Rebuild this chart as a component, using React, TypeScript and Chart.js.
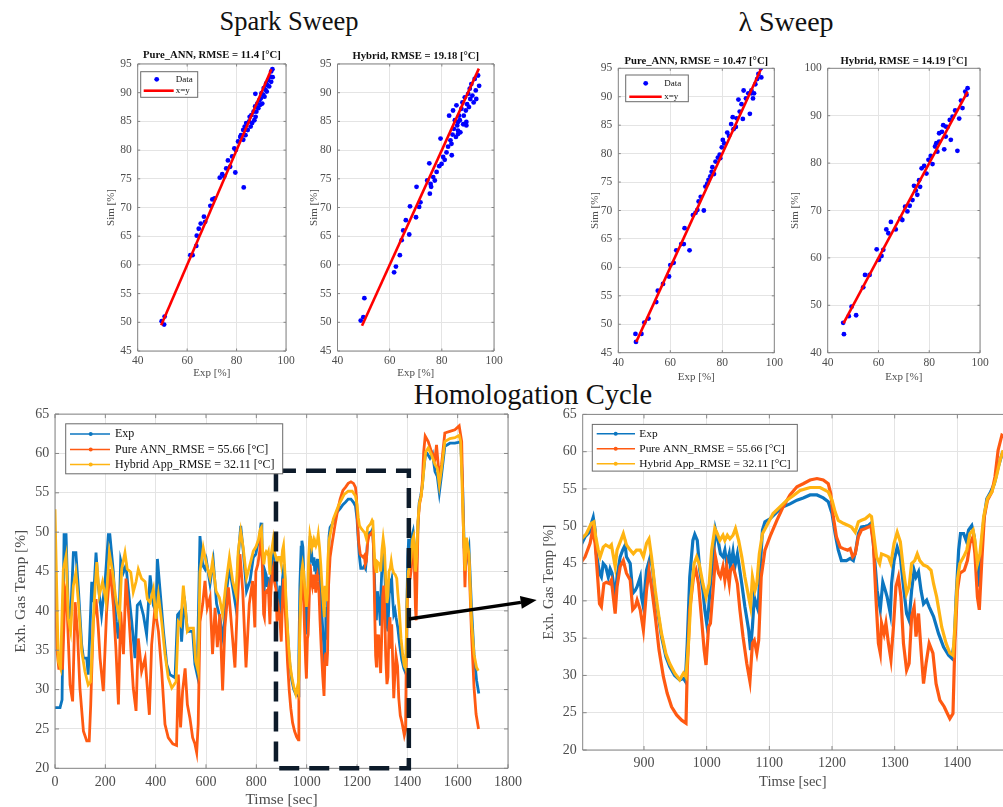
import React, { useEffect, useRef } from "react";
import { Chart, registerables } from "chart.js";

Chart.register(...registerables);

const SERIF = "'Liberation Serif', 'Times New Roman', serif";
Chart.defaults.font.family = SERIF;

// ---------------- Scatter data: [Exp, Sim] ----------------
const sparkPureAnnPoints: [number, number][] = [
  [49.7, 50.2], [50.7, 49.6], [50.9, 51.0], [61.3, 61.7], [62.2, 61.7], [63.7, 63.3], [63.9, 65.1], [64.7, 66.3],
  [65.5, 67.2], [66.8, 68.4], [67.3, 67.5], [69.4, 70.3], [70.2, 71.4], [71.1, 71.6], [73.2, 75.2], [74.2, 75.8],
  [75.0, 75.4], [75.8, 76.8], [76.5, 78.2], [77.4, 77.1], [79.5, 76.1], [78.2, 78.9], [79.1, 80.3], [79.7, 80.0],
  [80.6, 81.5], [81.5, 82.3], [81.8, 82.6], [82.7, 83.5], [82.9, 73.5], [83.3, 84.1], [83.9, 84.7], [84.5, 83.5],
  [85.1, 85.0], [85.3, 85.8], [86.0, 86.1], [86.3, 84.7], [86.9, 86.7], [87.5, 87.6], [87.7, 85.8], [88.4, 88.1],
  [87.6, 89.8], [89.2, 88.7], [89.8, 89.0], [90.1, 89.9], [90.4, 88.1], [91.0, 90.8], [91.3, 89.3], [92.0, 91.6],
  [92.2, 90.2], [92.8, 92.2], [93.2, 91.1], [93.6, 92.8], [94.0, 91.9], [94.0, 93.7], [94.5, 94.1], [94.6, 92.7],
  [82.7, 81.8], [83.6, 82.6], [85.7, 84.1], [87.2, 85.2], [88.0, 86.7], [88.8, 87.3], [89.6, 87.9], [90.8, 89.6],
  [91.7, 90.5], [92.4, 91.3],
];
const sparkHybridPoints: [number, number][] = [
  [48.9, 50.3], [49.9, 50.9], [50.3, 54.2], [61.7, 58.7], [62.4, 59.7], [63.9, 61.7], [64.6, 64.3], [65.2, 66.0],
  [66.2, 67.8], [67.5, 65.3], [67.8, 70.2], [70.1, 68.3], [70.3, 73.6], [71.3, 70.1], [71.8, 70.9], [74.4, 74.7],
  [75.2, 77.7], [75.4, 72.4], [75.7, 74.1], [75.9, 73.6], [76.7, 75.3], [77.3, 74.7], [78.0, 76.2], [79.0, 77.2],
  [79.5, 82.0], [79.9, 77.6], [80.5, 78.8], [81.1, 78.3], [81.8, 79.6], [82.4, 80.6], [82.8, 86.0], [83.3, 81.7],
  [83.8, 79.1], [84.1, 82.7], [84.3, 86.9], [84.6, 83.7], [85.0, 85.2], [85.4, 82.3], [85.6, 87.8], [85.9, 84.3],
  [86.2, 83.4], [86.6, 86.0], [86.9, 85.2], [87.1, 83.1], [87.5, 87.2], [87.9, 88.3], [88.2, 84.5], [88.4, 86.0],
  [88.8, 89.2], [89.2, 86.9], [89.4, 84.9], [89.7, 88.0], [90.1, 89.8], [90.4, 87.5], [90.7, 90.7], [90.9, 88.9],
  [91.3, 91.5], [91.7, 89.5], [92.2, 88.3], [92.6, 92.4], [93.0, 90.4], [93.2, 88.9], [93.9, 93.0], [94.3, 91.2],
  [89.4, 84.3], [83.7, 81.1], [86.2, 84.9], [86.2, 82.8],
];
const lambdaPureAnnPoints: [number, number][] = [
  [46.6, 48.3], [46.8, 46.9], [48.9, 48.3], [50.0, 50.3], [51.6, 51.0], [54.6, 53.9], [55.2, 55.9], [57.2, 57.1],
  [59.5, 58.4], [60.0, 60.4], [61.3, 60.8], [62.3, 63.0], [64.2, 64.1], [65.2, 64.1], [65.5, 66.9], [67.4, 63.0],
  [68.7, 69.2], [69.7, 69.6], [70.4, 70.1], [70.9, 71.6], [71.7, 72.4], [72.9, 70.0], [73.5, 74.2], [74.2, 74.7],
  [74.7, 75.4], [75.4, 76.0], [75.9, 76.8], [76.2, 77.6], [76.8, 76.4], [77.4, 78.6], [78.3, 79.3], [79.0, 79.8],
  [79.2, 79.2], [79.8, 81.1], [80.2, 82.4], [80.7, 81.8], [81.9, 83.7], [82.6, 83.1], [83.4, 85.2], [84.0, 86.4],
  [84.3, 84.3], [85.2, 84.7], [85.5, 86.2], [86.2, 89.5], [86.7, 87.4], [87.4, 88.7], [87.9, 86.1], [88.2, 91.1],
  [89.1, 89.7], [90.0, 90.6], [90.6, 87.0], [91.2, 91.1], [91.8, 89.7], [92.7, 92.2], [93.4, 93.1], [93.9, 94.0],
  [94.8, 95.0], [95.0, 93.4], [91.2, 90.6], [92.2, 90.6],
];
const lambdaHybridPoints: [number, number][] = [
  [46.1, 46.3], [46.4, 43.9], [48.3, 47.7], [49.4, 49.7], [51.2, 47.9], [54.0, 53.8], [54.7, 56.4], [56.5, 56.4],
  [59.3, 61.8], [60.2, 59.6], [61.2, 60.4], [61.9, 61.7], [63.1, 66.0], [63.9, 65.2], [64.9, 67.6], [66.8, 66.0],
  [68.7, 68.4], [69.4, 68.0], [70.5, 70.8], [71.4, 69.8], [72.3, 71.0], [73.4, 72.2], [74.0, 75.2], [74.7, 74.2],
  [75.3, 73.3], [76.0, 76.4], [76.4, 75.0], [77.0, 78.9], [78.0, 79.4], [78.9, 77.8], [79.7, 80.7], [80.6, 81.5],
  [81.3, 79.8], [82.3, 83.5], [83.2, 82.4], [83.9, 84.5], [85.0, 86.6], [85.5, 88.0], [85.9, 82.9], [86.5, 85.6],
  [87.2, 87.6], [88.1, 89.1], [88.5, 84.9], [89.2, 89.8], [90.2, 91.1], [91.1, 82.6], [91.8, 89.4], [92.5, 93.2],
  [93.1, 91.6], [94.2, 95.1], [95.1, 95.8], [94.7, 94.4], [83.9, 86.3], [86.5, 87.7], [82.8, 84.2],
];
const sparkPureAnnDiag = [49.5, 94.1];
const sparkHybridDiag = [49.4, 94.2];
const lambdaPureAnnDiag = [46.9, 94.8];
const lambdaHybridDiag = [46.2, 95.1];

const scatterXTicks = [40, 60, 80, 100];
const sparkYTicks = [45, 50, 55, 60, 65, 70, 75, 80, 85, 90, 95];
const lambdaPureYTicks = [45, 50, 55, 60, 65, 70, 75, 80, 85, 90, 95];
const lambdaHybridYTicks = [40, 50, 60, 70, 80, 90, 100];

const sparkPureAnnTitle = "Pure_ANN, RMSE = 11.4 [°C]";
const sparkHybridTitle = "Hybrid, RMSE = 19.18 [°C]";
const lambdaPureAnnTitle = "Pure_ANN, RMSE = 10.47 [°C]";
const lambdaHybridTitle = "Hybrid, RMSE = 14.19 [°C]";

// ---------------- Homologation cycle: [time s, value %] ----------------
const cycleExp: [number, number][] = [
  [0, 27.7], [20, 27.7], [28, 28.7], [36, 49.7], [44, 49.7], [53, 39.9], [60, 37.8], [73, 47.4], [83, 47.4], [93, 42.8],
  [106, 35.7], [113, 34], [126, 34], [132, 31.9], [146, 43.7], [152, 41.1], [163, 47.4], [172, 43.2], [185, 39.5], [199, 43.7],
  [212, 49.7], [218, 49.7], [232, 44.9], [242, 38.6], [252, 36.5], [261, 46.4], [272, 44.9], [282, 45.8], [291, 42.8], [305, 38.6],
  [318, 34], [327, 40.7], [338, 41.1], [351, 39.5], [364, 37], [378, 44.5], [391, 40.7], [401, 39.9], [407, 46.6], [417, 42.8],
  [431, 37.4], [444, 33.2], [457, 31.9], [477, 31.5], [487, 39.5], [497, 39.9], [503, 36.1], [510, 39.5], [517, 40.7], [526, 37.4],
  [536, 37.4], [547, 37.4], [556, 33.2], [565, 31.9], [576, 49.5], [587, 45.8], [596, 45.3], [602, 46.3], [616, 43.4], [629, 46.3],
  [642, 40.9], [655, 39.2], [669, 36.2], [679, 41.7], [693, 45.5], [706, 43], [719, 40.4], [728, 46.8], [738, 50.8], [748, 47.6],
  [761, 42.5], [775, 43.8], [788, 46.8], [798, 47.2], [806, 48.6], [813, 49.2], [816, 50.4], [819, 51.2], [822, 49.5], [824, 46.3],
  [829, 43.7], [832, 43.2], [835, 45], [839, 44.6], [843, 43.2], [846, 44.3], [849, 43.7], [854, 40.5], [857, 43.2], [862, 45.9],
  [866, 46.8], [870, 47.5], [872, 45.9], [878, 45], [882, 41], [886, 41.4], [889, 41.9], [894, 43.2], [896, 40.5], [899, 39.2],
  [904, 44.1], [910, 45.9], [914, 44.1], [918, 40.5], [923, 37.9], [928, 35.2], [935, 32.5], [941, 31.2], [949, 30], [957, 29.4],
  [963, 29.6], [966, 29.2], [969, 34.3], [973, 43.2], [978, 48.1], [981, 48.9], [985, 48.1], [989, 44.1], [994, 41.4], [997, 38.8],
  [1000, 37], [1003, 38.8], [1006, 42.3], [1011, 46.3], [1014, 49.5], [1019, 47.7], [1022, 46.3], [1026, 45.9], [1029, 46.8], [1032, 45],
  [1036, 46.3], [1038, 44.6], [1042, 46.6], [1045, 44.6], [1049, 46.3], [1052, 44.6], [1056, 42.3], [1061, 39.2], [1067, 36.1], [1070, 33.4],
  [1073, 36.5], [1076, 40.5], [1079, 39.6], [1082, 38.8], [1085, 43.7], [1089, 49.5], [1093, 50.6], [1101, 51], [1112, 51.9], [1122, 52.6],
  [1133, 53], [1144, 53.5], [1154, 53.8], [1165, 54.2], [1176, 54.2], [1186, 53.8], [1194, 53.3], [1200, 51.7], [1205, 49], [1210, 46.8],
  [1215, 45.4], [1223, 45.4], [1229, 45.7], [1234, 45.4], [1238, 46.8], [1242, 49], [1247, 49.9], [1253, 50], [1258, 50.1], [1262, 50.4],
  [1265, 48.6], [1269, 44.6], [1272, 41.4], [1277, 38.8], [1281, 42.5], [1285, 41.4], [1288, 40.5], [1293, 38.3], [1295, 42.3], [1299, 45.4],
  [1304, 47.2], [1309, 45.9], [1314, 41.9], [1319, 38.3], [1323, 37.4], [1327, 41.4], [1331, 44.1], [1334, 43.2], [1338, 43.9], [1342, 41.4],
  [1346, 39.6], [1351, 40.1], [1355, 39.2], [1362, 37.9], [1370, 35.6], [1378, 33.8], [1386, 32.7], [1391, 32.3], [1395, 34.3], [1398, 40.5],
  [1402, 46.8], [1405, 49], [1410, 49], [1414, 48.1], [1418, 49.5], [1423, 50.1], [1427, 48.6], [1431, 44.6], [1434, 41.9], [1437, 45.9],
  [1442, 50.8], [1447, 53.7], [1453, 54.6], [1459, 55.7], [1465, 57.9], [1472, 59.9], [1479, 60], [1490, 59.4], [1500, 60], [1510, 57.7],
  [1519, 57.1], [1527, 55], [1536, 57.3], [1549, 60.9], [1569, 61.3], [1589, 61.3], [1602, 61.4], [1612, 61.5], [1620, 55.6], [1626, 48],
  [1635, 46.3], [1645, 48], [1655, 40.4], [1665, 34.5], [1675, 31.2], [1684, 29.5],
];
const cycleAnn: [number, number][] = [
  [0, 45], [8, 35], [15, 32.7], [30, 32.7], [40, 42.8], [46, 42], [60, 30.6], [70, 28.5], [80, 41.1], [89, 37.4],
  [99, 30.2], [113, 24.7], [126, 23.5], [136, 23.5], [142, 28.1], [152, 38.6], [163, 41.5], [172, 37.8], [179, 34], [192, 29.8],
  [205, 39.9], [219, 45.3], [232, 40.7], [242, 35.2], [252, 28.1], [261, 39.9], [272, 34.5], [282, 44.1], [295, 38.6], [311, 30.2],
  [322, 27.3], [331, 36.5], [344, 32.3], [358, 34], [375, 26.8], [384, 35.7], [397, 40.3], [411, 37.4], [424, 32.3], [437, 25.6],
  [450, 23.9], [468, 23.1], [483, 22.9], [490, 31.9], [499, 25.2], [507, 29.8], [517, 32.7], [526, 28.1], [536, 26.4], [547, 23.9],
  [556, 23.1], [563, 22], [569, 25.6], [576, 38.6], [587, 40.9], [596, 43.8], [605, 40.4], [616, 41.7], [626, 34.5], [636, 40.4],
  [645, 35.4], [655, 39.6], [666, 29.9], [675, 37.9], [689, 43], [702, 37.9], [715, 32.8], [724, 40.4], [735, 47.2], [746, 42.5],
  [759, 32.8], [772, 40.9], [785, 43.8], [794, 37.9], [798, 45], [806, 45.9], [814, 47.7], [818, 49.5], [822, 47.7], [826, 43.2],
  [829, 39.6], [832, 39.2], [836, 42.3], [840, 42.5], [845, 42.3], [848, 42.8], [854, 38.3], [857, 41.9], [862, 44.6], [867, 45.4],
  [872, 43.7], [878, 42.8], [882, 38.8], [886, 39.2], [889, 40.1], [894, 38.8], [899, 36.1], [904, 41.4], [908, 44.1], [912, 41.9],
  [918, 37.9], [924, 33.4], [931, 29.8], [937, 27.6], [944, 25.8], [952, 24.7], [960, 24], [967, 23.6], [969, 30.7], [973, 38.8],
  [979, 43.2], [983, 44.1], [987, 42.3], [992, 37.4], [996, 33.4], [999, 31.4], [1003, 36.5], [1006, 37], [1011, 42.3], [1014, 45.9],
  [1019, 43.7], [1022, 43.2], [1026, 44.6], [1029, 42.8], [1032, 44.6], [1036, 42.3], [1038, 44.1], [1042, 44.6], [1045, 43.7], [1049, 42.3],
  [1053, 38.8], [1058, 35.2], [1064, 31.6], [1069, 29.2], [1073, 34.3], [1076, 34.7], [1080, 33], [1083, 34.7], [1087, 43.2], [1093, 46.8],
  [1101, 48.6], [1112, 50.8], [1122, 52.6], [1133, 54.2], [1144, 55.3], [1154, 55.7], [1165, 56.2], [1176, 56.4], [1186, 56.2], [1194, 55.7],
  [1198, 54.4], [1202, 51.3], [1207, 48.6], [1213, 47.2], [1218, 47], [1225, 46.8], [1229, 47], [1233, 45.9], [1237, 46.3], [1242, 48.6],
  [1247, 49.5], [1253, 49.7], [1258, 49.9], [1262, 50.1], [1266, 47.7], [1270, 40.5], [1274, 34.3], [1277, 33], [1279, 37], [1283, 35.6],
  [1286, 37], [1290, 34.3], [1294, 32.1], [1298, 36.5], [1302, 41.9], [1306, 43.2], [1310, 40.5], [1314, 34.3], [1319, 30.7], [1323, 31.6],
  [1327, 37.9], [1331, 39.2], [1334, 35.2], [1338, 38.3], [1342, 33.4], [1346, 28.9], [1350, 31.6], [1355, 34.3], [1361, 33], [1366, 28.9],
  [1372, 26.7], [1379, 25.8], [1384, 24.9], [1388, 24.2], [1393, 24.9], [1396, 34.3], [1400, 41.4], [1404, 43.7], [1411, 44.1], [1416, 45.4],
  [1420, 47.7], [1425, 48.6], [1428, 46.3], [1432, 40.5], [1435, 38.8], [1439, 45.4], [1443, 51.3], [1448, 53.5], [1455, 54.6], [1460, 56.6],
  [1465, 60.2], [1471, 62.2], [1483, 61.5], [1496, 60.2], [1510, 59.4], [1516, 61.1], [1527, 56.9], [1536, 58.6], [1549, 62.6], [1569, 62.8],
  [1589, 63], [1606, 63.5], [1616, 61.5], [1622, 51.4], [1629, 43], [1635, 48.9], [1645, 46.3], [1655, 37.1], [1665, 30.3], [1673, 26.9],
  [1683, 25],
];
const cycleHybrid: [number, number][] = [
  [0, 52.9], [13, 33.6], [22, 32.7], [33, 45.3], [44, 47], [53, 39], [62, 37.4], [73, 43.2], [83, 44.9], [93, 41.1],
  [106, 34.9], [119, 32.3], [132, 30.6], [142, 31], [155, 40.7], [166, 46.2], [176, 42], [189, 43.7], [203, 41.1], [216, 47.4],
  [229, 44.9], [242, 41.5], [256, 39], [265, 45.3], [278, 47.4], [287, 45.3], [301, 44.9], [311, 42.4], [322, 43.7], [331, 45.3],
  [344, 44.1], [358, 43.7], [367, 41.5], [378, 41.1], [391, 42.8], [401, 39], [411, 42], [424, 38.6], [437, 34.5], [450, 31.5],
  [464, 30.2], [481, 31], [490, 38.6], [499, 38.2], [510, 43.2], [517, 40.7], [526, 37.4], [536, 37.8], [550, 37.8], [559, 33.6],
  [569, 32.3], [576, 44.9], [589, 48], [602, 45.9], [616, 44.2], [626, 46.3], [640, 42.5], [653, 41.7], [666, 39.6], [679, 43.4],
  [693, 46.8], [706, 43.8], [719, 42.1], [728, 47.6], [738, 50.1], [748, 48], [761, 44.2], [775, 45.9], [788, 47.6], [798, 48.1],
  [808, 49], [816, 50.4], [820, 50.6], [823, 48.6], [827, 46.8], [830, 45.9], [835, 47.2], [839, 47.5], [845, 47.2], [848, 47.5],
  [854, 44.6], [857, 46.8], [863, 48.1], [867, 49], [872, 47.5], [878, 46.8], [883, 46.3], [888, 46.8], [894, 46.8], [899, 45.9],
  [904, 47.7], [908, 48.3], [912, 45.9], [918, 41.4], [923, 38.3], [928, 35.6], [935, 32.9], [941, 31.6], [949, 30.3], [957, 29.4],
  [963, 30.3], [967, 29.8], [971, 34.3], [975, 40.5], [980, 45], [984, 45.9], [988, 45], [994, 42.3], [999, 40.5], [1004, 42.3],
  [1008, 46.8], [1013, 49.7], [1017, 49], [1021, 48.1], [1026, 48.8], [1029, 48.1], [1033, 48.8], [1037, 48.3], [1042, 48.8], [1046, 49.7],
  [1051, 48.1], [1056, 45.9], [1061, 43.2], [1067, 40.5], [1070, 39.2], [1073, 43.2], [1077, 41.4], [1080, 42.3], [1084, 46.3], [1089, 49],
  [1096, 50.1], [1106, 51.7], [1117, 52.6], [1128, 53.5], [1138, 54.1], [1149, 54.8], [1165, 55.2], [1181, 55.2], [1194, 54.6], [1200, 53.5],
  [1205, 51.9], [1210, 50.8], [1218, 50.4], [1226, 50.1], [1231, 49.9], [1237, 49.2], [1242, 50.6], [1247, 50.8], [1253, 51], [1260, 51.5],
  [1263, 51.3], [1267, 48.6], [1271, 45.9], [1276, 45], [1279, 46.3], [1285, 46.1], [1290, 45.9], [1294, 45], [1299, 47.7], [1304, 49.2],
  [1309, 47.9], [1314, 44.1], [1319, 41], [1323, 41.9], [1327, 45], [1332, 45.4], [1336, 46.3], [1340, 45.4], [1346, 44.8], [1352, 44.6],
  [1358, 44.1], [1362, 42.3], [1367, 40.5], [1375, 36.5], [1382, 34.3], [1388, 33], [1393, 32.7], [1396, 36.5], [1400, 42.8], [1404, 45],
  [1410, 45.9], [1415, 46.8], [1420, 49], [1425, 49.5], [1428, 48.1], [1432, 45], [1436, 46.3], [1442, 51.3], [1448, 53.7], [1455, 54.6],
  [1462, 56.6], [1468, 58.8], [1473, 60.2], [1483, 60.7], [1496, 59.8], [1510, 58.6], [1519, 58.1], [1527, 56], [1536, 58.1], [1549, 61.5],
  [1569, 61.9], [1589, 62], [1606, 62.3], [1612, 61.5], [1622, 51.4], [1629, 45.1], [1635, 49.3], [1645, 47.2], [1655, 38.7], [1665, 34.5],
  [1675, 32.8], [1682, 32.4],
];
const cycleLabels = ["Exp", "Pure ANN_RMSE = 55.66 [°C]", "Hybrid App_RMSE = 32.11 [°C]"];
const cycleFullXTicks = [0, 200, 400, 600, 800, 1000, 1200, 1400, 1600, 1800];
const cycleZoomXTicks = [900, 1000, 1100, 1200, 1300, 1400];
const cycleYTicks = [20, 25, 30, 35, 40, 45, 50, 55, 60, 65];
const cycleFullRange = [0, 1800];
const cycleZoomRange = [802.2, 1472.8];
const zoomBoxTime = [878, 1406];
const zoomBoxTop = 57.8;
const arrowStartValue = 38.96;

// ---------------- styles ----------------
const BLUE = "#0000ff";
const RED = "#ff0000";
const EXP_C = "#0c76c0";
const ANN_C = "#ff5a12";
const HYB_C = "#ffb412";
const GRID = "#e4e4e4";
const BOX = "#868686";
const TICK = "#4d4d4d";
const TEXT = "#111111";

type Geo = {
  cx: number; cy: number; cw: number; ch: number;
  L: number; T: number; R: number; B: number;
  titleY?: number; titleSize?: number;
  yTitleX: number; xTitleY: number; xTickY: number; yTickGap: number;
  tickSize: number; axisTitleSize: number;
};

type LegendSpec = {
  dx: number; dy: number; w: number; h: number;
  order: number[]; kinds: string[]; rows: number[];
  lineX: [number, number]; dotX: number; textX: number;
  font: number; lineWidth: number; dotR: number;
};

function axisOptions(geo: Geo, axis: "x" | "y", min: number, max: number, ticks: number[], title: string) {
  const lhK = geo.tickSize * 1.2;
  const lhA = geo.axisTitleSize * 1.2;
  const o: any = {
    type: "linear",
    min,
    max,
    afterBuildTicks: (s: any) => {
      s.ticks = ticks.map((v) => ({ value: v }));
    },
    grid: { color: GRID, lineWidth: 1, drawTicks: false },
    border: { display: false },
    ticks: {
      color: TICK,
      font: { family: SERIF, size: geo.tickSize },
      autoSkip: false,
      maxRotation: 0,
      minRotation: 0,
      callback: (v: any) => String(v),
    },
    title: { display: true, text: title, color: TICK, font: { family: SERIF, size: geo.axisTitleSize }, padding: 0 },
  };
  if (axis === "x") {
    const axisBottom = geo.xTitleY + lhA / 2;
    o.afterFit = (s: any) => {
      s.height = axisBottom - geo.B;
    };
    o.ticks.padding = geo.xTickY - geo.B - lhK / 2;
  } else {
    const axisLeft = geo.yTitleX - lhA / 2;
    o.afterFit = (s: any) => {
      s.width = geo.L - axisLeft;
    };
    o.ticks.padding = geo.yTickGap;
  }
  return o;
}

function layoutPadding(geo: Geo) {
  const lhA = geo.axisTitleSize * 1.2;
  const axisLeft = geo.yTitleX - lhA / 2;
  const axisBottom = geo.xTitleY + lhA / 2;
  let top = geo.T - geo.cy;
  if (geo.titleY != null && geo.titleSize) {
    top = geo.titleY - (geo.titleSize * 1.2) / 2 - geo.cy;
  }
  return { left: axisLeft - geo.cx, top, right: geo.cx + geo.cw - geo.R, bottom: geo.cy + geo.ch - axisBottom };
}

function framePlugin(o: { tick: number; right?: boolean; legend?: LegendSpec; extra?: (chart: any) => void }) {
  return {
    id: "frame",
    afterDatasetsDraw(chart: any) {
      const { ctx, chartArea: a } = chart;
      const xs = chart.scales.x;
      const ys = chart.scales.y;
      const drawRight = o.right !== false;
      ctx.save();
      ctx.setLineDash([]);
      ctx.strokeStyle = BOX;
      ctx.lineWidth = 1;
      ctx.beginPath();
      if (drawRight) {
        ctx.rect(a.left, a.top, a.right - a.left, a.bottom - a.top);
      } else {
        ctx.moveTo(a.right + 2, a.top);
        ctx.lineTo(a.left, a.top);
        ctx.lineTo(a.left, a.bottom);
        ctx.lineTo(a.right + 2, a.bottom);
      }
      ctx.stroke();
      ctx.beginPath();
      for (const t of xs.ticks) {
        const px = xs.getPixelForValue(t.value);
        ctx.moveTo(px, a.bottom);
        ctx.lineTo(px, a.bottom - o.tick);
        ctx.moveTo(px, a.top);
        ctx.lineTo(px, a.top + o.tick);
      }
      for (const t of ys.ticks) {
        const py = ys.getPixelForValue(t.value);
        ctx.moveTo(a.left, py);
        ctx.lineTo(a.left + o.tick, py);
        if (drawRight) {
          ctx.moveTo(a.right, py);
          ctx.lineTo(a.right - o.tick, py);
        }
      }
      ctx.stroke();

      if (o.extra) o.extra(chart);

      if (o.legend) {
        const L = o.legend;
        const x0 = a.left + L.dx;
        const y0 = a.top + L.dy;
        ctx.fillStyle = "#ffffff";
        ctx.fillRect(x0, y0, L.w, L.h);
        ctx.strokeStyle = "#6a6a6a";
        ctx.lineWidth = 1;
        ctx.strokeRect(x0, y0, L.w, L.h);
        ctx.font = `${L.font}px ${SERIF}`;
        ctx.textBaseline = "middle";
        ctx.textAlign = "left";
        L.order.forEach((di, i) => {
          const ds = chart.data.datasets[di];
          const y = y0 + L.rows[i];
          const kind = L.kinds[i];
          const col = ds.borderColor;
          if (kind !== "dot") {
            ctx.strokeStyle = col;
            ctx.lineWidth = L.lineWidth;
            ctx.beginPath();
            ctx.moveTo(x0 + L.lineX[0], y);
            ctx.lineTo(x0 + L.lineX[1], y);
            ctx.stroke();
          }
          if (kind !== "line") {
            ctx.fillStyle = col;
            ctx.beginPath();
            ctx.arc(x0 + L.dotX, y, L.dotR, 0, Math.PI * 2);
            ctx.fill();
          }
          ctx.fillStyle = TEXT;
          ctx.fillText(ds.label, x0 + L.textX, y);
        });
      }
      ctx.restore();
    },
  };
}

function scatterConfig(
  geo: Geo,
  points: [number, number][],
  diag: number[],
  yMin: number,
  yMax: number,
  yTicks: number[],
  title: string,
  legend?: LegendSpec
) {
  const lhT = (geo.titleSize || 10) * 1.2;
  return {
    type: "scatter",
    data: {
      datasets: [
        {
          label: "x=y",
          data: [
            { x: diag[0], y: diag[0] },
            { x: diag[1], y: diag[1] },
          ],
          showLine: true,
          borderColor: RED,
          backgroundColor: RED,
          borderWidth: 2.6,
          pointRadius: 0,
          order: 0,
        },
        {
          label: "Data",
          data: points.map(([x, y]) => ({ x, y })),
          borderColor: BLUE,
          backgroundColor: BLUE,
          borderWidth: 0,
          pointRadius: 2.4,
          order: 1,
        },
      ],
    },
    options: {
      responsive: false,
      animation: false,
      devicePixelRatio: 1,
      layout: { padding: layoutPadding(geo) },
      scales: {
        x: axisOptions(geo, "x", 40, 100, scatterXTicks, "Exp [%]"),
        y: axisOptions(geo, "y", yMin, yMax, yTicks, "Sim [%]"),
      },
      plugins: {
        legend: { display: false },
        tooltip: { enabled: false },
        title: {
          display: true,
          text: title,
          fullSize: false,
          color: TEXT,
          font: { family: SERIF, size: geo.titleSize, weight: "bold" },
          padding: { top: 0, bottom: geo.T - ((geo.titleY as number) + lhT / 2) },
        },
      },
    },
    plugins: [framePlugin({ tick: 2.5, legend })],
  };
}

function cycleConfig(
  geo: Geo,
  range: number[],
  xTicks: number[],
  lineWidth: number,
  legend: LegendSpec,
  right: boolean,
  extra?: (chart: any) => void
) {
  const series = [cycleExp, cycleAnn, cycleHybrid];
  const colors = [EXP_C, ANN_C, HYB_C];
  const orders = [3, 2, 1];
  return {
    type: "line",
    data: {
      datasets: series.map((s, i) => ({
        label: cycleLabels[i],
        data: s.map(([x, y]) => ({ x, y })),
        borderColor: colors[i],
        backgroundColor: colors[i],
        borderWidth: lineWidth,
        pointRadius: 0,
        tension: 0,
        fill: false,
        order: orders[i],
      })),
    },
    options: {
      responsive: false,
      animation: false,
      devicePixelRatio: 1,
      layout: { padding: layoutPadding(geo) },
      scales: {
        x: axisOptions(geo, "x", range[0], range[1], xTicks, "Timse [sec]"),
        y: axisOptions(geo, "y", 20, 65, cycleYTicks, "Exh. Gas Temp [%]"),
      },
      plugins: { legend: { display: false }, tooltip: { enabled: false }, title: { display: false } },
    },
    plugins: [framePlugin({ tick: 4, legend, right, extra })],
  };
}

// ---------------- layout (page pixels) ----------------
const geoSparkPure: Geo = {
  cx: 80, cy: 40, cw: 225, ch: 345, L: 137.7, T: 64, R: 286, B: 351,
  titleY: 55, titleSize: 10.7, yTitleX: 111, xTitleY: 373.3, xTickY: 360.7, yTickGap: 6, tickSize: 11.5, axisTitleSize: 11,
};
const geoSparkHybrid: Geo = {
  cx: 300, cy: 40, cw: 210, ch: 345, L: 337.5, T: 64, R: 494, B: 351,
  titleY: 56, titleSize: 10.7, yTitleX: 314, xTitleY: 373.3, xTickY: 360.7, yTickGap: 6, tickSize: 11.5, axisTitleSize: 11,
};
const geoLambdaPure: Geo = {
  cx: 570, cy: 40, cw: 220, ch: 350, L: 618.3, T: 68.3, R: 774.3, B: 352.7,
  titleY: 61, titleSize: 10.7, yTitleX: 595, xTitleY: 376.7, xTickY: 362.7, yTickGap: 6, tickSize: 11.5, axisTitleSize: 11,
};
const geoLambdaHybrid: Geo = {
  cx: 775, cy: 40, cw: 228, ch: 350, L: 827.7, T: 68.3, R: 980, B: 352.7,
  titleY: 61, titleSize: 10.7, yTitleX: 795, xTitleY: 376.7, xTickY: 362.7, yTickGap: 6, tickSize: 11.5, axisTitleSize: 11,
};
const geoCycleFull: Geo = {
  cx: 0, cy: 400, cw: 545, ch: 412, L: 55, T: 412.3, R: 508, B: 768.3,
  yTitleX: 20.7, xTitleY: 800, xTickY: 782.3, yTickGap: 5.7, tickSize: 14, axisTitleSize: 15.5,
};
const geoCycleZoom: Geo = {
  cx: 530, cy: 400, cw: 473, ch: 400, L: 582.7, T: 414, R: 1003, B: 750,
  yTitleX: 549.3, xTitleY: 781.7, xTickY: 763.3, yTickGap: 6, tickSize: 14, axisTitleSize: 14.5,
};
const arrowTipPage = { x: 536.7, y: 600 };

const scatterLegendA: LegendSpec = {
  dx: 3, dy: 7.7, w: 57, h: 25.6, order: [1, 0], kinds: ["dot", "line"], rows: [7.6, 19],
  lineX: [3, 33], dotX: 16, textX: 35, font: 9, lineWidth: 2.6, dotR: 2.4,
};
const scatterLegendC: LegendSpec = {
  dx: 7.4, dy: 6.7, w: 62.6, h: 26.7, order: [1, 0], kinds: ["dot", "line"], rows: [8.3, 21.7],
  lineX: [3.6, 36], dotX: 20, textX: 38.5, font: 9, lineWidth: 2.6, dotR: 2.4,
};
const cycleLegendFull: LegendSpec = {
  dx: 10.7, dy: 9.7, w: 217, h: 50, order: [0, 1, 2], kinds: ["linedot", "linedot", "linedot"], rows: [10.3, 25.7, 40.7],
  lineX: [4.3, 44.3], dotX: 25, textX: 49.3, font: 12, lineWidth: 1.5, dotR: 2,
};
const cycleLegendZoom: LegendSpec = {
  dx: 9.6, dy: 10, w: 205, h: 46.7, order: [0, 1, 2], kinds: ["linedot", "linedot", "linedot"], rows: [9.3, 24.3, 39.3],
  lineX: [4.4, 42.7], dotX: 23.4, textX: 47, font: 11.4, lineWidth: 1.5, dotR: 2,
};

function drawZoomBoxAndArrow(chart: any) {
  const { ctx } = chart;
  const xs = chart.scales.x;
  const ys = chart.scales.y;
  const x0 = xs.getPixelForValue(zoomBoxTime[0]);
  const x1 = xs.getPixelForValue(zoomBoxTime[1]);
  const y0 = ys.getPixelForValue(zoomBoxTop);
  const y1 = ys.getPixelForValue(20);
  ctx.save();
  ctx.strokeStyle = "#0d1b2a";
  ctx.lineWidth = 4.5;
  ctx.setLineDash([20, 10]);
  ctx.strokeRect(x0, y0, x1 - x0, y1 - y0);
  ctx.setLineDash([]);
  // arrow towards the zoomed view
  const sx = x1;
  const sy = ys.getPixelForValue(arrowStartValue);
  const ex = arrowTipPage.x - geoCycleFull.cx;
  const ey = arrowTipPage.y - geoCycleFull.cy;
  const ang = Math.atan2(ey - sy, ex - sx);
  const head = 16;
  const half = 6.5;
  const bx = ex - head * Math.cos(ang);
  const by = ey - head * Math.sin(ang);
  ctx.strokeStyle = "#000";
  ctx.lineWidth = 3.5;
  ctx.beginPath();
  ctx.moveTo(sx, sy);
  ctx.lineTo(bx, by);
  ctx.stroke();
  ctx.fillStyle = "#000";
  ctx.beginPath();
  ctx.moveTo(ex, ey);
  ctx.lineTo(bx - half * Math.sin(ang), by + half * Math.cos(ang));
  ctx.lineTo(bx + half * Math.sin(ang), by - half * Math.cos(ang));
  ctx.closePath();
  ctx.fill();
  ctx.restore();
}

function ChartCanvas({ geo, make }: { geo: Geo; make: () => any }) {
  const ref = useRef<HTMLCanvasElement>(null);
  useEffect(() => {
    const chart = new Chart(ref.current as HTMLCanvasElement, make());
    return () => chart.destroy();
  }, []);
  return (
    <canvas
      ref={ref}
      width={geo.cw}
      height={geo.ch}
      style={{ position: "absolute", left: geo.cx, top: geo.cy, width: geo.cw, height: geo.ch }}
    />
  );
}

function Heading({ text, x, y, size }: { text: string; x: number; y: number; size: number }) {
  return (
    <div
      style={{
        position: "absolute",
        left: x - 200,
        width: 400,
        top: y - size * 0.6,
        height: size * 1.2,
        lineHeight: `${size * 1.2}px`,
        textAlign: "center",
        fontFamily: SERIF,
        fontSize: size,
        color: TEXT,
        whiteSpace: "nowrap",
      }}
    >
      {text}
    </div>
  );
}

export default function App() {
  return (
    <div
      style={{
        position: "fixed",
        left: 0,
        top: 0,
        width: 1003,
        height: 807,
        overflow: "hidden",
        background: "#ffffff",
      }}
    >
      <Heading text="Spark Sweep" x={289} y={22} size={26.5} />
      <Heading text="λ Sweep" x={786} y={22} size={28} />
      <Heading text="Homologation Cycle" x={533} y={395} size={28.5} />
      <ChartCanvas
        geo={geoSparkPure}
        make={() => scatterConfig(geoSparkPure, sparkPureAnnPoints, sparkPureAnnDiag, 45, 95, sparkYTicks, sparkPureAnnTitle, scatterLegendA)}
      />
      <ChartCanvas
        geo={geoSparkHybrid}
        make={() => scatterConfig(geoSparkHybrid, sparkHybridPoints, sparkHybridDiag, 45, 95, sparkYTicks, sparkHybridTitle)}
      />
      <ChartCanvas
        geo={geoLambdaPure}
        make={() => scatterConfig(geoLambdaPure, lambdaPureAnnPoints, lambdaPureAnnDiag, 45, 95, lambdaPureYTicks, lambdaPureAnnTitle, scatterLegendC)}
      />
      <ChartCanvas
        geo={geoLambdaHybrid}
        make={() => scatterConfig(geoLambdaHybrid, lambdaHybridPoints, lambdaHybridDiag, 40, 100, lambdaHybridYTicks, lambdaHybridTitle)}
      />
      <ChartCanvas
        geo={geoCycleFull}
        make={() => cycleConfig(geoCycleFull, cycleFullRange, cycleFullXTicks, 2.8, cycleLegendFull, true, drawZoomBoxAndArrow)}
      />
      <ChartCanvas
        geo={geoCycleZoom}
        make={() => cycleConfig(geoCycleZoom, cycleZoomRange, cycleZoomXTicks, 3.2, cycleLegendZoom, false)}
      />
    </div>
  );
}
